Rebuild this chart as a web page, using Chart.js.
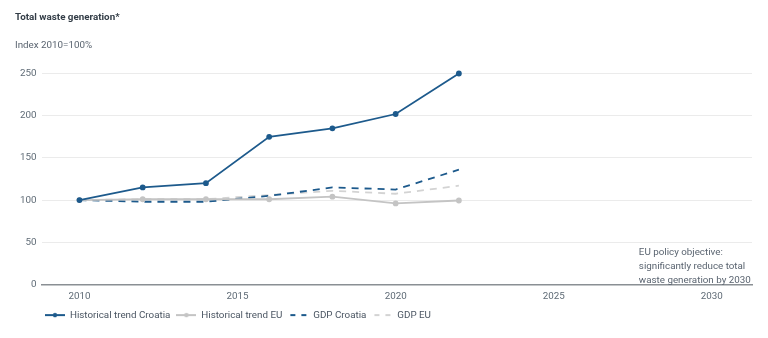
<!DOCTYPE html>
<html>
<head>
<meta charset="utf-8">
<script src="https://cdn.jsdelivr.net/npm/chart.js@4"></script>
<style>
  html, body { margin: 0; padding: 0; background: #fff; }
  #wrap { width: 768px; height: 338px; }
</style>
</head>
<body>
<div id="wrap"><canvas id="wasteChart"></canvas></div>
<script>
const years = [2010, 2012, 2014, 2016, 2018, 2020, 2022];
const croatiaTrend = [100, 115, 120, 175, 185, 202, 250];
const euTrend = [100, 101, 101, 101, 104, 96, 99.5];
const gdpCroatia = [100, 98, 98, 105, 115, 112.5, 136];
const gdpEU = [100, 101, 101, 106, 111, 107.5, 117];
const xTicks = [2010, 2015, 2020, 2025, 2030];
const noteLines = ['EU policy objective:', 'significantly reduce total', 'waste generation by 2030'];

const blue = '#1d5a8c';
const grey = '#c4c4c4';
const lightGrey = '#d3d3d3';
const fontSize = 9.8;

const toPoints = (vals) => vals.map((v, i) => ({ x: years[i], y: v }));

// legend icons: short line, optional dot, optional dash
function makeIcon(color, dot, dashed) {
    const c = document.createElement('canvas');
    c.width = 20; c.height = 10;
    const g = c.getContext('2d');
    g.strokeStyle = color;
    g.lineWidth = 2;
    if (dashed) g.setLineDash([5, 6]);
    g.beginPath();
    g.moveTo(dashed ? 2 : 0, 5);
    g.lineTo(20, 5);
    g.stroke();
    if (dot) {
        g.fillStyle = color;
        g.beginPath();
        g.arc(10, 5, 2.2, 0, Math.PI * 2);
        g.fill();
    }
    return c;
}

const notePlugin = {
    id: 'note',
    afterLayout(chart) {
        // move legend to where the original has it
        chart.legend.left += 24;
        chart.legend.right += 24;
        chart.legend.top -= 4;
        chart.legend.bottom -= 4;
    },
    afterDraw(chart) {
        const g = chart.ctx;
        const x = chart.scales.x.getPixelForValue(2030) - 73;
        const bottom = chart.chartArea.bottom;
        g.save();
        g.font = fontSize + 'px Roboto';
        g.fillStyle = '#5a6470';
        g.textBaseline = 'middle';
        noteLines.forEach((t, i) => g.fillText(t, x, bottom - 32 + i * 14));
        g.restore();
    }
};

new Chart(document.getElementById('wasteChart'), {
    type: 'line',
    data: {
        datasets: [
            { label: 'Historical trend Croatia', data: toPoints(croatiaTrend), borderColor: blue, backgroundColor: blue,
              borderWidth: 1.8, pointRadius: 2, pointHoverRadius: 3, clip: false, icon: makeIcon(blue, true, false) },
            { label: 'Historical trend EU', data: toPoints(euTrend), borderColor: grey, backgroundColor: grey,
              borderWidth: 1.8, pointRadius: 2, clip: false, icon: makeIcon(grey, true, false) },
            { label: 'GDP Croatia', data: toPoints(gdpCroatia), borderColor: blue, borderDash: [7, 6],
              borderWidth: 1.8, pointRadius: 0, icon: makeIcon(blue, false, true) },
            { label: 'GDP EU', data: toPoints(gdpEU), borderColor: lightGrey, borderDash: [7, 6],
              borderWidth: 1.8, pointRadius: 0, icon: makeIcon(lightGrey, false, true) }
        ]
    },
    options: {
        responsive: true,
        maintainAspectRatio: false,
        animation: false,
        layout: { padding: { left: 15, right: 16, top: 0, bottom: 4 } },
        scales: {
            x: {
                type: 'linear',
                min: 2008.8,
                max: 2031.27,
                afterBuildTicks: (axis) => { axis.ticks = xTicks.map(v => ({ value: v })); },
                ticks: { color: '#5f6b76', font: { family: 'Roboto', size: fontSize }, padding: 6,
                         callback: (v) => String(v) },
                grid: { display: false, drawTicks: false },
                border: { color: '#8a8f94', width: 1.5 }
            },
            y: {
                min: 0,
                max: 250,
                ticks: { stepSize: 50, color: '#5f6b76', font: { family: 'Roboto', size: fontSize }, padding: 5 },
                grid: { color: '#ebebeb', drawTicks: false },
                border: { display: false }
            }
        },
        plugins: {
            title: {
                display: true,
                text: 'Total waste generation*',
                align: 'start',
                color: '#333d47',
                font: { family: 'Roboto', size: fontSize, weight: 'bold' },
                padding: { top: 12, bottom: 16 }
            },
            subtitle: {
                display: true,
                text: 'Index 2010=100%',
                align: 'start',
                color: '#5a6470',
                font: { family: 'Roboto', size: fontSize },
                padding: { bottom: 22 }
            },
            legend: {
                position: 'bottom',
                align: 'start',
                labels: {
                    usePointStyle: true,
                    pointStyleWidth: 20,
                    color: '#4a5562',
                    font: { family: 'Roboto', size: fontSize },
                    padding: 6,
                    generateLabels: (chart) => chart.data.datasets.map((ds, i) => ({
                        text: ds.label,
                        pointStyle: ds.icon,
                        fontColor: '#4a5562',
                        datasetIndex: i,
                        hidden: false,
                        lineWidth: 0
                    }))
                }
            },
            tooltip: { enabled: false }
        }
    },
    plugins: [notePlugin]
});
</script>
</body>
</html>
